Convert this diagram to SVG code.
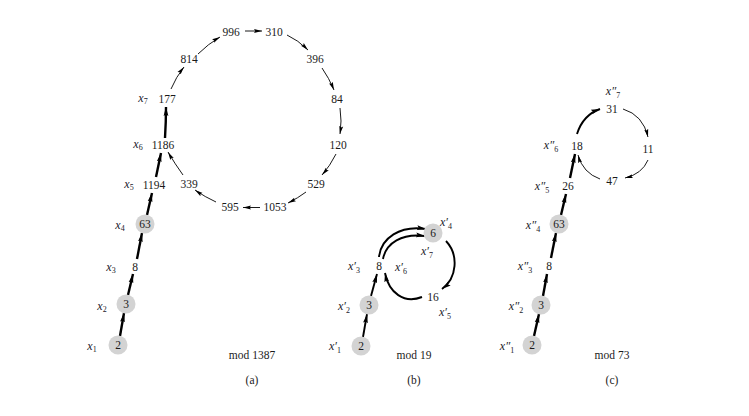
<svg xmlns="http://www.w3.org/2000/svg" width="749" height="416" viewBox="0 0 749 416">
<style>
.n{font-family:"Liberation Serif","Times New Roman",serif;font-size:11.5px;fill:#1a1a1a;text-anchor:middle}
.l{font-family:"Liberation Serif","Times New Roman",serif;font-size:12px;font-style:italic;fill:#1a1a2a;text-anchor:middle}
.s{font-size:8px;font-style:normal}
.c{fill:#d3d3d3;stroke:none}
.tk{fill:none;stroke:#000;stroke-width:2.4;marker-end:url(#ah)}
.tn{fill:none;stroke:#000;stroke-width:0.9;marker-end:url(#ahs)}
.tm{fill:none;stroke:#000;stroke-width:1.9;marker-end:url(#ah)}
</style>
<defs>
<marker id="ah" markerUnits="userSpaceOnUse" markerWidth="10" markerHeight="8" refX="9" refY="3" orient="auto" viewBox="0 0 10 6">
<path d="M0,0.6 L9,3 L0,5.4 L1.5,3 Z" fill="#000"/>
</marker>
<marker id="ahs" markerUnits="userSpaceOnUse" markerWidth="9" markerHeight="6" refX="8" refY="2.5" orient="auto" viewBox="0 0 9 5">
<path d="M0,0.5 L8,2.5 L0,4.5 L1.3,2.5 Z" fill="#000"/>
</marker>
</defs>
<rect width="749" height="416" fill="#fff"/>

<g id="connectors">
<path class="tk" d="M120,336 L124,313"/>
<path class="tk" d="M128,295 L133,274"/>
<path class="tk" d="M137,259 L142,233"/>
<path class="tk" d="M147,215 L152,193"/>
<path class="tk" d="M156,177 L161,153"/>
<path class="tk" d="M165,138 Q166,122 166,107"/>
<path class="tn" d="M171,89 Q176,77 184,67"/>
<path class="tn" d="M198,54 Q208,44 220,37"/>
<path class="tn" d="M245,31 L262,31"/>
<path class="tn" d="M287,35 Q298,40 308,50"/>
<path class="tn" d="M322,68 Q329,78 334,90"/>
<path class="tn" d="M340,108 Q342,121 340,134"/>
<path class="tn" d="M336,154 Q330,166 322,175"/>
<path class="tn" d="M306,192 Q298,198 288,203"/>
<path class="tn" d="M260,207.5 L243,207.5"/>
<path class="tn" d="M216,202 Q205,197 195,190"/>
<path class="tn" d="M183,175 Q175,164 168,152"/>
<path class="tm" d="M363,337 L367,314"/>
<path class="tm" d="M371,296 L377,274"/>
<path class="tm" d="M379,257 C381,238 400,225 426,229"/>
<path class="tm" d="M383,259 C386,243 402,233 425,236"/>
<path class="tm" d="M446,241 C459,255 457,278 442,289"/>
<path class="tm" d="M422,297 C404,304 389,293 385,273"/>
<path class="tk" d="M534,336 L539,314"/>
<path class="tk" d="M543,296 L547,274"/>
<path class="tk" d="M551,258 L556,233"/>
<path class="tk" d="M561,215 L566,194"/>
<path class="tk" d="M570,178 L575,154"/>
<path class="tm" d="M577,134 Q583,115 600,109"/>
<path class="tn" d="M623,109 Q643,115 648,137"/>
<path class="tn" d="M648,160 Q642,174 625,178"/>
<path class="tn" d="M600,179 Q583,173 578,155"/>
</g>

<g id="a_2"><circle class="c" cx="118" cy="345" r="9.5"/><text class="n" x="118" y="349">2</text></g>
<g id="a_3"><circle class="c" cx="126" cy="304" r="9.5"/><text class="n" x="126" y="308">3</text></g>
<g id="a_8"><text class="n" x="135" y="271">8</text></g>
<g id="a_63"><circle class="c" cx="145" cy="224" r="9.5"/><text class="n" x="145" y="228">63</text></g>
<g id="a_1194"><text class="n" x="154" y="189">1194</text></g>
<g id="a_1186"><text class="n" x="163" y="149">1186</text></g>
<g id="a_177"><text class="n" x="167" y="103">177</text></g>
<g id="a_814"><text class="n" x="189" y="63">814</text></g>
<g id="a_996"><text class="n" x="231" y="36">996</text></g>
<g id="a_310"><text class="n" x="274" y="36">310</text></g>
<g id="a_396"><text class="n" x="315" y="63">396</text></g>
<g id="a_84"><text class="n" x="337" y="103">84</text></g>
<g id="a_120"><text class="n" x="338" y="149">120</text></g>
<g id="a_529"><text class="n" x="316" y="188">529</text></g>
<g id="a_1053"><text class="n" x="275" y="211">1053</text></g>
<g id="a_595"><text class="n" x="230" y="211">595</text></g>
<g id="a_339"><text class="n" x="189" y="188">339</text></g>
<g id="a_labels">
<text class="l" x="92" y="350">x<tspan class="s" dy="2">1</tspan></text>
<text class="l" x="102" y="310">x<tspan class="s" dy="2">2</tspan></text>
<text class="l" x="111" y="271">x<tspan class="s" dy="2">3</tspan></text>
<text class="l" x="120" y="229">x<tspan class="s" dy="2">4</tspan></text>
<text class="l" x="129" y="188">x<tspan class="s" dy="2">5</tspan></text>
<text class="l" x="138" y="148">x<tspan class="s" dy="2">6</tspan></text>
<text class="l" x="143" y="102">x<tspan class="s" dy="2">7</tspan></text>
<text class="n" x="252" y="359">mod 1387</text>
<text class="n" x="252" y="384">(a)</text>
</g>

<g id="b_2"><circle class="c" cx="361" cy="346" r="9.5"/><text class="n" x="361" y="350">2</text></g>
<g id="b_3"><circle class="c" cx="369" cy="305" r="9.5"/><text class="n" x="369" y="309">3</text></g>
<g id="b_8"><text class="n" x="379" y="270">8</text></g>
<g id="b_6"><circle class="c" cx="433" cy="233" r="9.5"/><text class="n" x="433" y="237">6</text></g>
<g id="b_16"><text class="n" x="433" y="301">16</text></g>
<g id="b_labels">
<text class="l" x="335" y="350">x′<tspan class="s" dy="3">1</tspan></text>
<text class="l" x="344" y="310">x′<tspan class="s" dy="3">2</tspan></text>
<text class="l" x="354" y="270">x′<tspan class="s" dy="3">3</tspan></text>
<text class="l" x="446" y="226">x′<tspan class="s" dy="3">4</tspan></text>
<text class="l" x="445" y="316">x′<tspan class="s" dy="3">5</tspan></text>
<text class="l" x="401" y="271">x′<tspan class="s" dy="3">6</tspan></text>
<text class="l" x="427" y="255">x′<tspan class="s" dy="3">7</tspan></text>
<text class="n" x="414" y="359">mod 19</text>
<text class="n" x="414" y="384">(b)</text>
</g>

<g id="c_2"><circle class="c" cx="532" cy="345" r="9.5"/><text class="n" x="532" y="349">2</text></g>
<g id="c_3"><circle class="c" cx="541" cy="305" r="9.5"/><text class="n" x="541" y="309">3</text></g>
<g id="c_8"><text class="n" x="549" y="270">8</text></g>
<g id="c_63"><circle class="c" cx="559" cy="224" r="9.5"/><text class="n" x="559" y="228">63</text></g>
<g id="c_26"><text class="n" x="568" y="190">26</text></g>
<g id="c_18"><text class="n" x="577" y="150">18</text></g>
<g id="c_31"><text class="n" x="612" y="113">31</text></g>
<g id="c_11"><text class="n" x="648" y="153">11</text></g>
<g id="c_47"><text class="n" x="612" y="185">47</text></g>
<g id="c_labels">
<text class="l" x="507" y="350">x″<tspan class="s" dy="3">1</tspan></text>
<text class="l" x="516" y="310">x″<tspan class="s" dy="3">2</tspan></text>
<text class="l" x="525" y="270">x″<tspan class="s" dy="3">3</tspan></text>
<text class="l" x="533" y="229">x″<tspan class="s" dy="3">4</tspan></text>
<text class="l" x="542" y="190">x″<tspan class="s" dy="3">5</tspan></text>
<text class="l" x="551" y="149">x″<tspan class="s" dy="3">6</tspan></text>
<text class="l" x="613" y="95">x″<tspan class="s" dy="3">7</tspan></text>
<text class="n" x="612" y="359">mod 73</text>
<text class="n" x="612" y="384">(c)</text>
</g>
</svg>
